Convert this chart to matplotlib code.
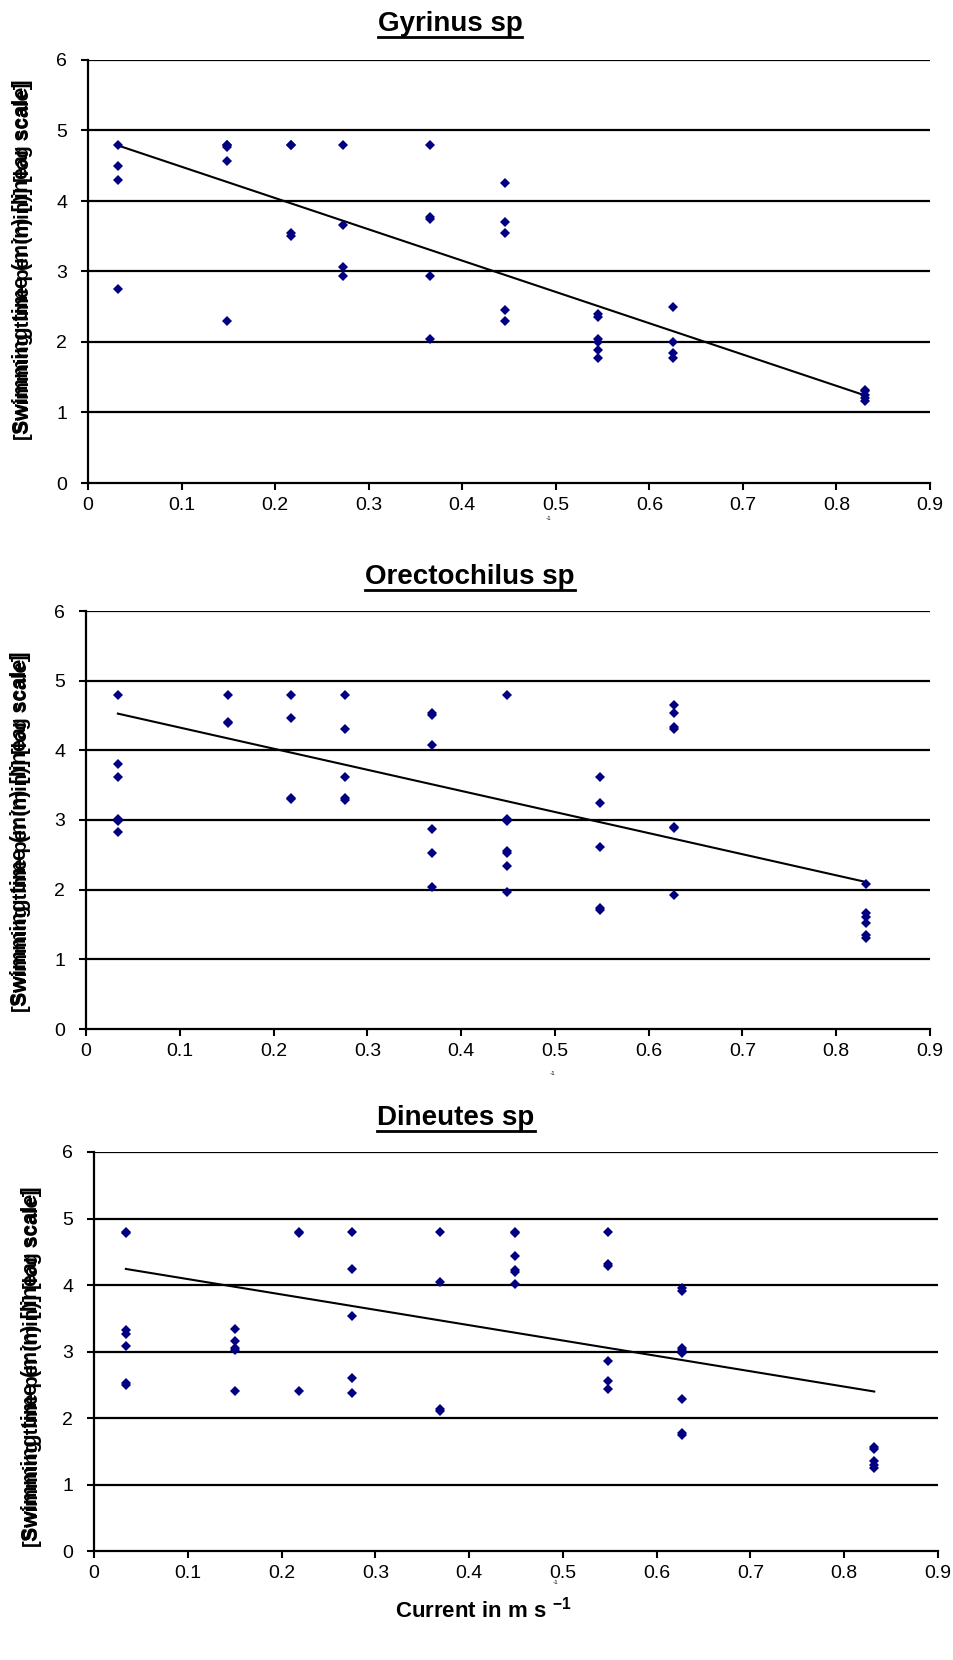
import numpy as np
import matplotlib
matplotlib.use('Agg')
import matplotlib.pyplot as plt
from matplotlib.lines import Line2D

plt.rcParams['font.family'] = ['Liberation Sans', 'DejaVu Sans']
plt.rcParams['mathtext.fontset'] = 'custom'
plt.rcParams['mathtext.rm'] = 'Liberation Sans'
plt.rcParams['mathtext.bf'] = 'Liberation Sans:bold'

# current (m/s) and swimming times, per species
gyr_current = [0.032, 0.149, 0.217, 0.273, 0.366, 0.446, 0.545, 0.625, 0.830]
gyr_times = [[4.8, 4.49, 4.30, 2.75],
             [4.8, 4.8, 4.77, 4.57, 2.30],
             [4.8, 4.8, 3.54, 3.51],
             [4.8, 3.66, 3.06, 2.94],
             [4.8, 3.78, 3.75, 2.94, 2.04],
             [4.26, 3.70, 3.55, 2.45, 2.30],
             [2.40, 2.36, 2.04, 2.0, 1.89, 1.77],
             [2.49, 2.0, 1.85, 1.77],
             [1.32, 1.30, 1.25, 1.20, 1.16]]
gyr_fit = (4.93, -4.44)   # intercept, slope

ore_current = [0.034, 0.151, 0.219, 0.276, 0.369, 0.449, 0.548, 0.627, 0.832]
ore_times = [[4.8, 3.81, 3.62, 3.02, 2.99, 2.83],
             [4.8, 4.41, 4.39],
             [4.8, 4.46, 3.32, 3.30],
             [4.8, 4.30, 3.62, 3.32, 3.28],
             [4.53, 4.50, 4.08, 2.87, 2.53, 2.04],
             [4.8, 3.02, 2.99, 2.56, 2.52, 2.34, 1.97],
             [3.62, 3.25, 2.61, 1.73, 1.71],
             [4.65, 4.53, 4.34, 4.31, 2.90, 2.88, 1.92],
             [2.08, 1.66, 1.61, 1.52, 1.35, 1.31]]
ore_fit = (4.63, -3.03)

din_current = [0.034, 0.150, 0.219, 0.275, 0.369, 0.449, 0.548, 0.627, 0.832]
din_times = [[4.80, 4.78, 3.32, 3.27, 3.08, 2.52, 2.49],
             [3.34, 3.16, 3.05, 3.03, 2.40],
             [4.80, 4.78, 2.40],
             [4.80, 4.24, 3.53, 2.60, 2.37],
             [4.80, 4.05, 2.13, 2.10],
             [4.80, 4.78, 4.43, 4.23, 4.20, 4.02],
             [4.80, 4.31, 4.29, 2.86, 2.56, 2.44],
             [3.95, 3.91, 3.05, 3.02, 2.97, 2.29, 1.77, 1.74],
             [1.57, 1.54, 1.36, 1.29, 1.25]]
din_fit = (4.32, -2.31)

titles = ['Gyrinus sp', 'Orectochilus sp', 'Dineutes sp']
xticks = [0, 0.1, 0.2, 0.3, 0.4, 0.5, 0.6, 0.7, 0.8, 0.9]
yticks = [0, 1, 2, 3, 4, 5, 6]

W, H = 954, 1660
fig = plt.figure(figsize=(W / 100, H / 100), dpi=100)

# axes boxes in pixels: left, top, right, bottom
boxes = [(88, 60, 930, 483), (86, 611, 930, 1029), (94, 1152, 938, 1551)]
title_pos = [(450, 31), (470, 584), (456, 1125)]
ylab_pos = [(23, 257), (21, 829), (32, 1364)]
small_pos = [(549, 518), (553, 1073), (556, 1582)]

data = [(gyr_current, gyr_times, gyr_fit),
        (ore_current, ore_times, ore_fit),
        (din_current, din_times, din_fit)]

title_artists = []
for i, (cur, times, fit) in enumerate(data):
    l, t, r, b = boxes[i]
    ax = fig.add_axes([l / W, 1 - b / H, (r - l) / W, (b - t) / H])
    xs = np.concatenate([[c] * len(ts) for c, ts in zip(cur, times)])
    ys = np.concatenate(times)
    for y in yticks[1:]:
        ax.axhline(y, color='black', lw=1.6, zorder=1)
    ax.plot(xs, ys, 'D', color='#000080', ms=5.2, mew=0, zorder=3)
    xf = np.array([min(cur), max(cur)])
    ax.plot(xf, fit[0] + fit[1] * xf, color='black', lw=1.5, zorder=2)
    ax.set_xlim(0, 0.9)
    ax.set_ylim(0, 6)
    ax.set_xticks(xticks)
    ax.set_xticklabels(['0'] + ['%.1f' % v for v in xticks[1:]])
    ax.set_yticks(yticks)
    ax.set_yticklabels([str(v) for v in yticks])
    for s in ['top', 'right']:
        ax.spines[s].set_visible(False)
    for s in ['left', 'bottom']:
        ax.spines[s].set_linewidth(1.6)
    ax.tick_params(axis='y', direction='out', length=5, width=1.5, pad=10, labelsize=14)
    ax.tick_params(axis='x', direction='out', length=5, width=1.5, pad=5, labelsize=14)

    tx, ty = title_pos[i]
    tt = fig.text(tx / W, 1 - ty / H, titles[i], ha='center', va='baseline',
                  fontsize=20, fontweight='bold')
    title_artists.append((tt, ty))

    yx, yy = ylab_pos[i]
    fig.text(yx / W, 1 - yy / H, 'Swimming time (min) [linear scale]', rotation=90,
             ha='center', va='center', fontsize=15.5, fontweight='bold')
    fig.text((yx + 1) / W, 1 - (yy + 4) / H, '[Swimming time per (min)] [log scale]', rotation=90,
             ha='center', va='center', fontsize=14.5, fontweight='bold')

    sx, sy = small_pos[i]
    fig.text(sx / W, 1 - sy / H, '-1', ha='center', va='center', fontsize=4.5)

fig.text(483 / W, 1 - 1617 / H, r'Current in m s $^{\mathbf{-1}}$', ha='center', va='baseline',
         fontsize=16, fontweight='bold')

# underline the titles
fig.canvas.draw()
rend = fig.canvas.get_renderer()
for tt, ty in title_artists:
    bb = tt.get_window_extent(rend)
    yl = 1 - (ty + 6) / H
    fig.add_artist(Line2D([bb.x0 / W, bb.x1 / W], [yl, yl], color='black', lw=2,
                          transform=fig.transFigure))

fig.savefig('out.png', dpi=100)
